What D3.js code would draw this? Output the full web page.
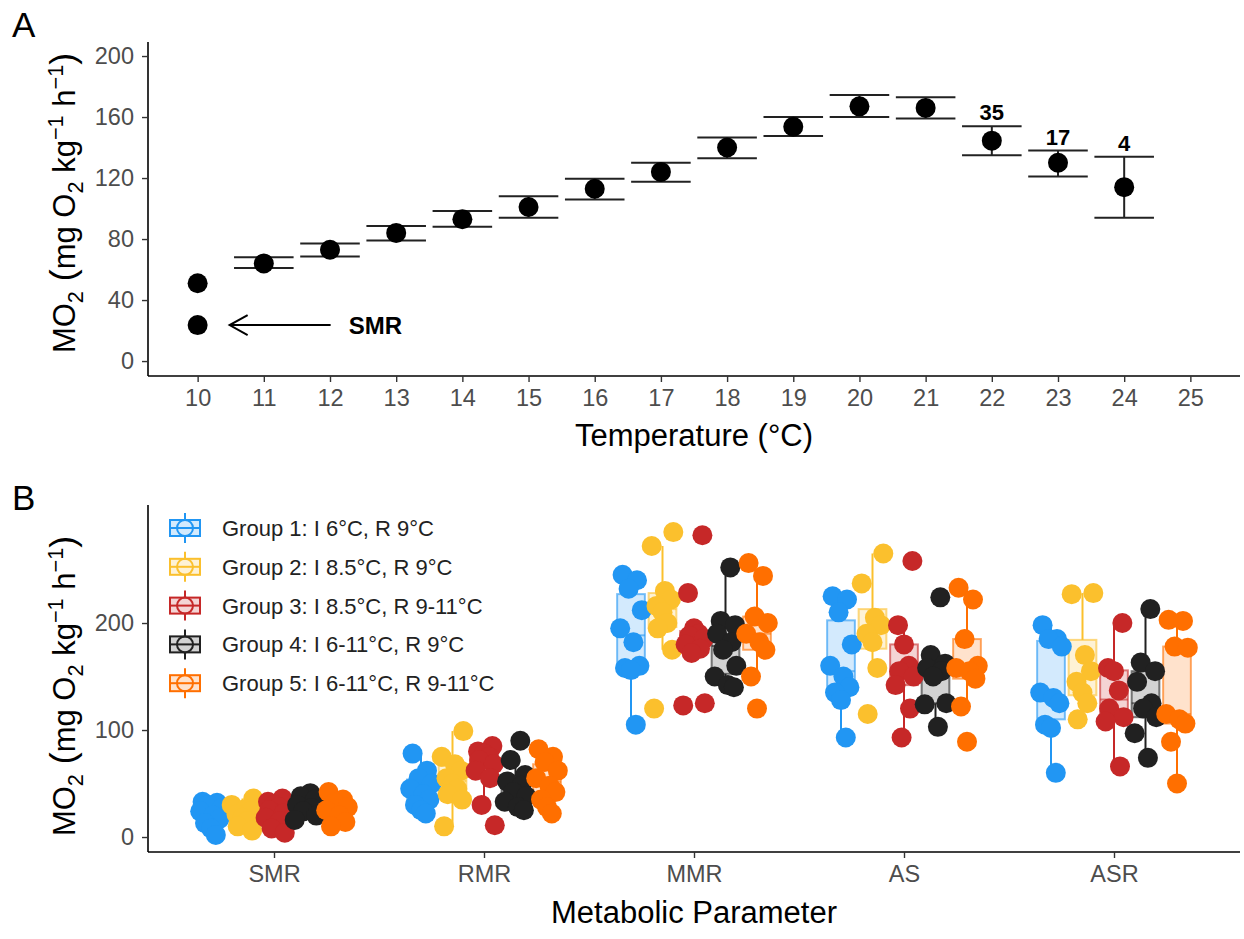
<!DOCTYPE html>
<html>
<head>
<meta charset="utf-8">
<script src="https://cdn.jsdelivr.net/npm/d3@7"></script>
<style>
  body { margin: 0; background: #fff; }
  svg { font-family: "Liberation Sans", Arial, sans-serif; }
</style>
</head>
<body>
<script>
// ---- Panel A data: MO2 across temperatures ----
const temps    = [10, 11, 12, 13, 14, 15, 16, 17, 18, 19, 20, 21, 22, 23, 24];
const mo2Mean  = [51, 64, 73, 84, 93, 101, 113, 124, 140, 153.6, 167, 166, 144.5, 130, 114];
const mo2Upper = [null, 68, 77, 88.5, 98.4, 108, 119.5, 130, 146.5, 160, 174.4, 173, 154, 138, 134];
const mo2Lower = [null, 61, 68.5, 79, 88, 94, 106, 117.6, 133, 147.5, 160, 159, 135, 121, 94];
const smrTemp = 10, smrValue = 23.6;
const nTemps  = [22, 23, 24];
const nLabels = ["35", "17", "4"];
const tempTicks = d3.range(10, 26);

// ---- Panel B data: metabolic parameters by group ----
const metrics = ["SMR", "RMR", "MMR", "AS", "ASR"];
const groupNames = [
  "Group 1: I 6°C, R 9°C",
  "Group 2: I 8.5°C, R 9°C",
  "Group 3: I 8.5°C, R 9-11°C",
  "Group 4: I 6-11°C, R 9°C",
  "Group 5: I 6-11°C, R 9-11°C"
];
const groupColors = ["#2196F3", "#FBC02D", "#C62828", "#212121", "#FF6F00"];

const group1 = {
  SMR: [33, 32, 30, 27, 24, 20, 17, 13, 8, 2],
  RMR: [78, 62, 55, 50, 45, 40, 35, 30, 25, 22],
  MMR: [245, 240, 232, 212, 195, 182, 160, 158, 156, 105],
  AS:  [225, 222, 210, 180, 160, 150, 140, 135, 128, 93],
  ASR: [198, 185, 185, 178, 135, 130, 125, 105, 102, 60]
};
const group2 = {
  SMR: [36, 30, 26, 24, 21, 18, 15, 10, 6],
  RMR: [99, 75, 68, 62, 55, 50, 45, 40, 35, 10],
  MMR: [285, 272, 230, 222, 216, 210, 200, 195, 175, 120],
  AS:  [265, 237, 205, 198, 190, 182, 158, 115],
  ASR: [228, 227, 170, 155, 145, 135, 125, 110]
};
const group3 = {
  SMR: [36, 33, 30, 28, 25, 22, 18, 15, 8, 4],
  RMR: [85, 80, 78, 75, 72, 68, 62, 55, 30, 11],
  MMR: [282, 228, 195, 190, 188, 185, 180, 176, 172, 125, 123],
  AS:  [258, 198, 180, 160, 155, 150, 142, 120, 93],
  ASR: [200, 158, 155, 137, 120, 112, 108, 66]
};
const group4 = {
  SMR: [41, 38, 35, 30, 27, 24, 20, 16],
  RMR: [90, 72, 58, 52, 48, 42, 38, 33, 28, 25],
  MMR: [252, 202, 198, 190, 182, 175, 160, 150, 142, 140],
  AS:  [224, 170, 162, 158, 155, 150, 125, 124, 103],
  ASR: [213, 163, 155, 145, 125, 120, 112, 97, 74]
};
const group5 = {
  SMR: [42, 35, 32, 28, 25, 20, 14, 10],
  RMR: [82, 75, 70, 62, 55, 48, 42, 35, 28, 22],
  MMR: [256, 244, 206, 200, 190, 182, 175, 150, 120],
  AS:  [233, 222, 185, 160, 158, 155, 148, 122, 89],
  ASR: [203, 202, 178, 177, 115, 110, 106, 89, 50]
};
const groupData = [group1, group2, group3, group4, group5];
const bTicks = [0, 100, 200];

// fixed horizontal jitter pattern (fraction of jitter width)
const jitterPattern = [-0.7, 0.5, -0.2, 0.9, -0.9, 0.2, 0.7, -0.5, 0.0, 0.4, -0.4, 0.8];

const width = 1244, height = 939;
const svg = d3.select("body").append("svg")
  .attr("width", width)
  .attr("height", height);

const tickFont = 23.5, titleFont = 31;

// helper: y axis title with sub/superscripts (plotmath-like, bigger brackets)
function moTitle(text, fs) {
  const sub = fs * 0.25, sup = fs * 0.4, small = fs * 0.7, big = fs * 1.15;
  const parts = [
    ["MO", 0, fs], ["2", sub, small], [" (", -sub, big], ["mg O", 0, fs], ["2", sub, small],
    [" kg", -sub, fs], ["\u22121", -sup, small], [" h", sup, fs], ["\u22121", -sup, small], [")", sup, big]
  ];
  parts.forEach(p => {
    text.append("tspan").attr("dy", p[1]).attr("font-size", p[2]).text(p[0]);
  });
}

function styleAxis(a) {
  a.select(".domain").attr("stroke", "#000").attr("stroke-width", 1.6);
  a.selectAll(".tick line").attr("stroke", "#333").attr("stroke-width", 1.4);
  a.selectAll(".tick text").attr("fill", "#4D4D4D").style("font-size", tickFont + "px")
    .style("font-family", "Liberation Sans, Arial, sans-serif");
}

// ================= Panel A =================
const ax = { left: 148, right: 1240, top: 42, bottom: 376 };
const xA = d3.scaleLinear().domain([9.25, 25.75]).range([ax.left, ax.right]);
const yA = d3.scaleLinear().domain([-9.8, 209.2]).range([ax.bottom, ax.top]);

const gA = svg.append("g");

// axes
const xAxisA = gA.append("g")
  .attr("transform", `translate(0,${ax.bottom})`)
  .call(d3.axisBottom(xA).tickValues(tempTicks).tickFormat(d3.format("d")).tickSize(6).tickSizeOuter(0).tickPadding(7));
const yAxisA = gA.append("g")
  .attr("transform", `translate(${ax.left},0)`)
  .call(d3.axisLeft(yA).tickValues(d3.range(0, 201, 40)).tickSize(6).tickSizeOuter(0).tickPadding(8));
styleAxis(xAxisA);
styleAxis(yAxisA);
xAxisA.select(".domain").attr("d", `M${ax.left},0H${ax.right}`);
yAxisA.select(".domain").attr("d", `M0,${ax.top}V${ax.bottom}`);

// error bars
const errIdx = temps.map((t, i) => i).filter(i => mo2Upper[i] !== null);
const capHalf = (xA(0.45) - xA(0));
errIdx.forEach(i => {
  const cx = xA(temps[i]);
  gA.append("line").attr("x1", cx).attr("x2", cx)
    .attr("y1", yA(mo2Upper[i])).attr("y2", yA(mo2Lower[i]))
    .attr("stroke", "#222").attr("stroke-width", 2);
  [mo2Upper[i], mo2Lower[i]].forEach(v => {
    gA.append("line").attr("x1", cx - capHalf).attr("x2", cx + capHalf)
      .attr("y1", yA(v)).attr("y2", yA(v))
      .attr("stroke", "#222").attr("stroke-width", 2);
  });
});

// points
gA.selectAll("circle.mean").data(temps).enter().append("circle")
  .attr("cx", d => xA(d))
  .attr("cy", (d, i) => yA(mo2Mean[i]))
  .attr("r", 10)
  .attr("fill", "#000");
gA.append("circle").attr("cx", xA(smrTemp)).attr("cy", yA(smrValue)).attr("r", 10).attr("fill", "#000");

// SMR arrow
const arrowY = yA(smrValue);
const ax0 = xA(smrTemp) + 32, ax1 = xA(smrTemp) + 133;
gA.append("line").attr("x1", ax0).attr("x2", ax1).attr("y1", arrowY).attr("y2", arrowY)
  .attr("stroke", "#000").attr("stroke-width", 2);
gA.append("path")
  .attr("d", `M${ax0 + 18},${arrowY - 10}L${ax0},${arrowY}L${ax0 + 18},${arrowY + 10}`)
  .attr("fill", "none").attr("stroke", "#000").attr("stroke-width", 2);
gA.append("text").attr("x", ax1 + 18).attr("y", arrowY + 9)
  .attr("font-size", 24).attr("font-weight", "bold").text("SMR");

// n labels
nTemps.forEach((t, k) => {
  const i = temps.indexOf(t);
  gA.append("text")
    .attr("x", xA(t)).attr("y", yA(mo2Upper[i]) - 6)
    .attr("text-anchor", "middle")
    .attr("font-size", 22).attr("font-weight", "bold")
    .text(nLabels[k]);
});

// titles
gA.append("text").attr("x", (ax.left + ax.right) / 2).attr("y", 446)
  .attr("text-anchor", "middle").attr("font-size", titleFont).text("Temperature (°C)");
const yTitleA = gA.append("text")
  .attr("transform", `translate(75,203) rotate(-90)`)
  .attr("text-anchor", "middle");
moTitle(yTitleA, titleFont);
gA.append("text").attr("x", 12).attr("y", 37).attr("font-size", 35).text("A");

// ================= Panel B =================
const bx = { left: 148, right: 1240, top: 505, bottom: 852 };
const xB = d3.scalePoint().domain(metrics).range([bx.left, bx.right]).padding(0.6);
const yB = d3.scaleLinear().domain([-14, 310.3]).range([bx.bottom, bx.top]);
const dodge = d3.scaleBand().domain(d3.range(5))
  .range([-xB.step() * 0.375, xB.step() * 0.375]);
const boxW = dodge.bandwidth() * 0.88;
const jitterW = 12;

const gB = svg.append("g");

const xAxisB = gB.append("g")
  .attr("transform", `translate(0,${bx.bottom})`)
  .call(d3.axisBottom(xB).tickSize(6).tickSizeOuter(0).tickPadding(7));
const yAxisB = gB.append("g")
  .attr("transform", `translate(${bx.left},0)`)
  .call(d3.axisLeft(yB).tickValues(bTicks).tickSize(6).tickSizeOuter(0).tickPadding(8));
styleAxis(xAxisB);
styleAxis(yAxisB);
xAxisB.select(".domain").attr("d", `M${bx.left},0H${bx.right}`);
yAxisB.select(".domain").attr("d", `M0,${bx.top}V${bx.bottom}`);

// boxplot stats
function boxStats(values) {
  const s = values.slice().sort(d3.ascending);
  const q1 = d3.quantile(s, 0.25), med = d3.quantile(s, 0.5), q3 = d3.quantile(s, 0.75);
  const iqr = q3 - q1;
  const lo = d3.min(s.filter(v => v >= q1 - 1.5 * iqr));
  const hi = d3.max(s.filter(v => v <= q3 + 1.5 * iqr));
  return { q1, med, q3, lo, hi };
}

// boxes first
metrics.forEach(m => {
  groupData.forEach((g, gi) => {
    const st = boxStats(g[m]);
    const cx = xB(m) + dodge(gi) + dodge.bandwidth() / 2;
    const col = groupColors[gi];
    gB.append("line").attr("x1", cx).attr("x2", cx).attr("y1", yB(st.hi)).attr("y2", yB(st.q3))
      .attr("stroke", col).attr("stroke-width", 2);
    gB.append("line").attr("x1", cx).attr("x2", cx).attr("y1", yB(st.q1)).attr("y2", yB(st.lo))
      .attr("stroke", col).attr("stroke-width", 2);
    gB.append("rect").attr("x", cx - boxW / 2).attr("width", boxW)
      .attr("y", yB(st.q3)).attr("height", yB(st.q1) - yB(st.q3))
      .attr("fill", col).attr("fill-opacity", 0.2)
      .attr("stroke", col).attr("stroke-opacity", 0.6).attr("stroke-width", 2);
    gB.append("line").attr("x1", cx - boxW / 2).attr("x2", cx + boxW / 2)
      .attr("y1", yB(st.med)).attr("y2", yB(st.med))
      .attr("stroke", col).attr("stroke-opacity", 0.6).attr("stroke-width", 2);
  });
});

// points on top
metrics.forEach(m => {
  groupData.forEach((g, gi) => {
    const cx = xB(m) + dodge(gi) + dodge.bandwidth() / 2;
    gB.selectAll(null).data(g[m]).enter().append("circle")
      .attr("cx", (d, i) => cx + jitterPattern[(i + gi * 3) % jitterPattern.length] * jitterW)
      .attr("cy", d => yB(d))
      .attr("r", 10)
      .attr("fill", groupColors[gi]);
  });
});

// legend
const legend = gB.append("g");
groupNames.forEach((name, gi) => {
  const ly = 528 + gi * 38.8, lx = 185, col = groupColors[gi];
  legend.append("line").attr("x1", lx).attr("x2", lx).attr("y1", ly - 15).attr("y2", ly + 15)
    .attr("stroke", col).attr("stroke-width", 2);
  legend.append("rect").attr("x", lx - 15).attr("y", ly - 8).attr("width", 30).attr("height", 16)
    .attr("fill", "#fff").attr("stroke", col).attr("stroke-width", 2);
  legend.append("rect").attr("x", lx - 15).attr("y", ly - 8).attr("width", 30).attr("height", 16)
    .attr("fill", col).attr("fill-opacity", 0.2);
  legend.append("circle").attr("cx", lx).attr("cy", ly).attr("r", 8)
    .attr("fill", "none").attr("stroke", col).attr("stroke-width", 2);
  legend.append("line").attr("x1", lx - 15).attr("x2", lx + 15).attr("y1", ly).attr("y2", ly)
    .attr("stroke", col).attr("stroke-width", 2);
  legend.append("text").attr("x", 222).attr("y", ly + 8)
    .attr("font-size", 22).attr("fill", "#222").text(name);
});

// titles
gB.append("text").attr("x", (bx.left + bx.right) / 2).attr("y", 923)
  .attr("text-anchor", "middle").attr("font-size", titleFont).text("Metabolic Parameter");
const yTitleB = gB.append("text")
  .attr("transform", `translate(75,686) rotate(-90)`)
  .attr("text-anchor", "middle");
moTitle(yTitleB, titleFont);
gB.append("text").attr("x", 12).attr("y", 510).attr("font-size", 35).text("B");
</script>
</body>
</html>
